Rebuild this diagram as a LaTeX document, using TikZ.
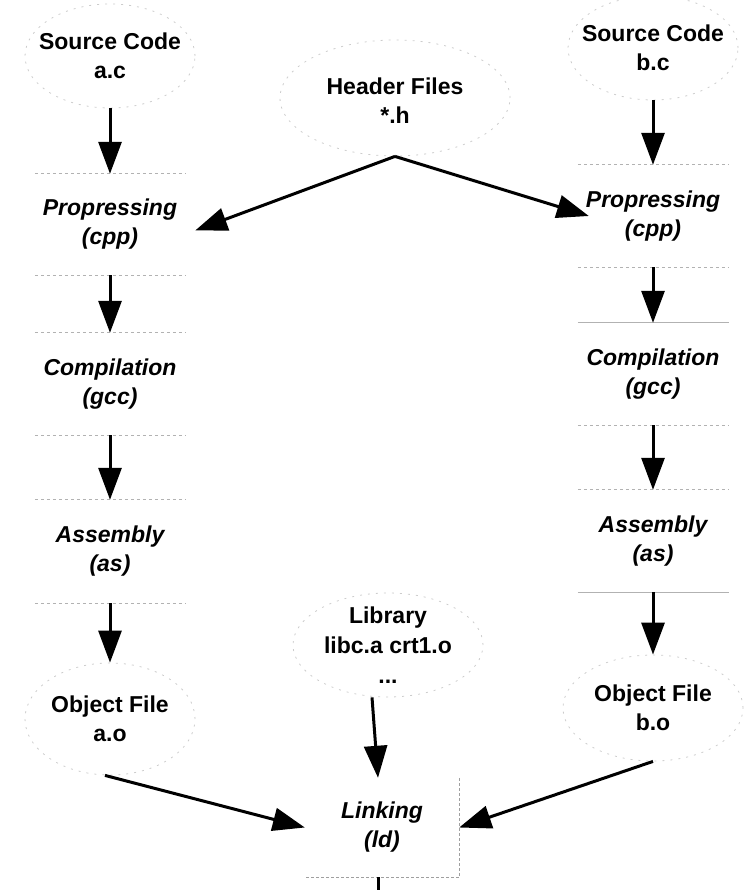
\documentclass[tikz,border=0pt]{standalone}
\usepackage{fontspec}
\setmainfont{Liberation Sans}
\usetikzlibrary{arrows.meta,shapes.geometric}
\begin{document}
\begin{tikzpicture}[x=1pt,y=-1pt,
  lbl/.style={font=\fontsize{23}{29}\selectfont\bfseries, align=center, text=black, inner sep=0},
  ilbl/.style={font=\fontsize{23}{29}\selectfont\bfseries\itshape, align=center, text=black, inner sep=0},
  procbox/.style={rectangle, minimum width=150pt, inner sep=0},
  edgeline/.style={draw=gray!60, dash pattern=on 3pt off 3pt, line width=0.8pt},
  solidedge/.style={draw=gray!60, line width=0.8pt},
  filebox/.style={ellipse, draw=gray!40, dash pattern=on 2pt off 6pt, line width=0.8pt, inner sep=0},
  flow/.style={line width=3pt, -{Triangle[length=32pt,width=23pt]}}
]
\useasboundingbox (0,0) rectangle (752,890);

% left column
\node[filebox, minimum width=170pt, minimum height=104pt] (srcA) at (110,56) {};
\node[lbl] (srcAt) at (srcA.center) {Source Code\\a.c};
\node[procbox, minimum height=101pt] (ppA) at (110,224.5) {};
\node[ilbl] (ppAt) at (ppA.center) {Propressing\\(cpp)};
\node[procbox, minimum height=102pt] (ccA) at (110,384) {};
\node[ilbl] (ccAt) at (ccA.center) {Compilation\\(gcc)};
\node[procbox, minimum height=103pt] (asA) at (110,551.5) {};
\node[ilbl] (asAt) at (asA.center) {Assembly\\(as)};
\node[filebox, minimum width=170pt, minimum height=112pt] (objA) at (110,719) {};
\node[lbl] (objAt) at (objA.center) {Object File\\a.o};

% right column
\node[filebox, minimum width=170pt, minimum height=104pt] (srcB) at (653,48) {};
\node[lbl] (srcBt) at (srcB.center) {Source Code\\b.c};
\node[procbox, minimum height=102pt] (ppB) at (653,216) {};
\node[ilbl] (ppBt) at (ppB.center) {Propressing\\(cpp)};
\node[procbox, minimum height=102pt] (ccB) at (653,374) {};
\node[ilbl] (ccBt) at (ccB.center) {Compilation\\(gcc)};
\node[procbox, minimum height=102pt] (asB) at (653,541) {};
\node[ilbl] (asBt) at (asB.center) {Assembly\\(as)};
\node[filebox, minimum width=180pt, minimum height=106pt] (objB) at (653,708) {};
\node[lbl] (objBt) at (objB.center) {Object File\\b.o};

% middle
\node[filebox, minimum width=230pt, minimum height=116pt] (hdr) at (395,98) {};
\node[lbl] (hdrt) at (395,101) {Header Files\\*.h};
\node[filebox, minimum width=190pt, minimum height=104pt] (lib) at (388,645) {};
\node[lbl, font=\fontsize{23}{30}\selectfont\bfseries] (libt) at (lib.center) {Library\\libc.a crt1.o\\...};
\node[procbox, minimum width=154pt, minimum height=99pt] (link) at (382,827.5) {};
\node[ilbl] (linkt) at (link.center) {Linking\\(ld)};
\coordinate (out) at (382,890);

% box edges (only the horizontal rules survive in the picture)
\foreach \n in {ppA,ccA,asA,ppB,ccB,asB}{
  \draw[edgeline] (\n.north west) -- (\n.north east);
  \draw[edgeline] (\n.south west) -- (\n.south east);
}
\draw[solidedge] (ccB.north west) -- (ccB.north east);
\draw[solidedge] (asB.south west) -- (asB.south east);
\draw[draw=gray!75, dash pattern=on 3pt off 2pt, line width=0.9pt]
  (link.north east) -- (link.south east) -- (link.south west);

% connectors
\draw[flow] (srcA.south) -- (ppA.north);
\draw[flow] (ppA.south) -- (ccA.north);
\draw[flow] (ccA.south) -- (asA.north);
\draw[flow] (asA.south) -- (objA.north);
\draw[flow] (srcB.south) -- (ppB.north);
\draw[flow] (ppB.south) -- (ccB.north);
\draw[flow] (ccB.south) -- (asB.north);
\draw[flow] (asB.south) -- (objB.north);
\draw[flow] (hdr.south) -- ([xshift=10pt,yshift=-6pt]ppA.east);
\draw[flow] (hdr.south) -- ([xshift=11pt]ppB.west);
\draw[flow] ([xshift=-5pt]objA.south) -- (link.west);
\draw[flow] (objB.south) -- (link.east);
\draw[flow] ([xshift=-16pt]lib.south) -- ([xshift=-4pt]link.north);
\draw[line width=3pt] ([xshift=-4pt]link.south) -- ([xshift=-4pt]out);
\end{tikzpicture}
\end{document}
